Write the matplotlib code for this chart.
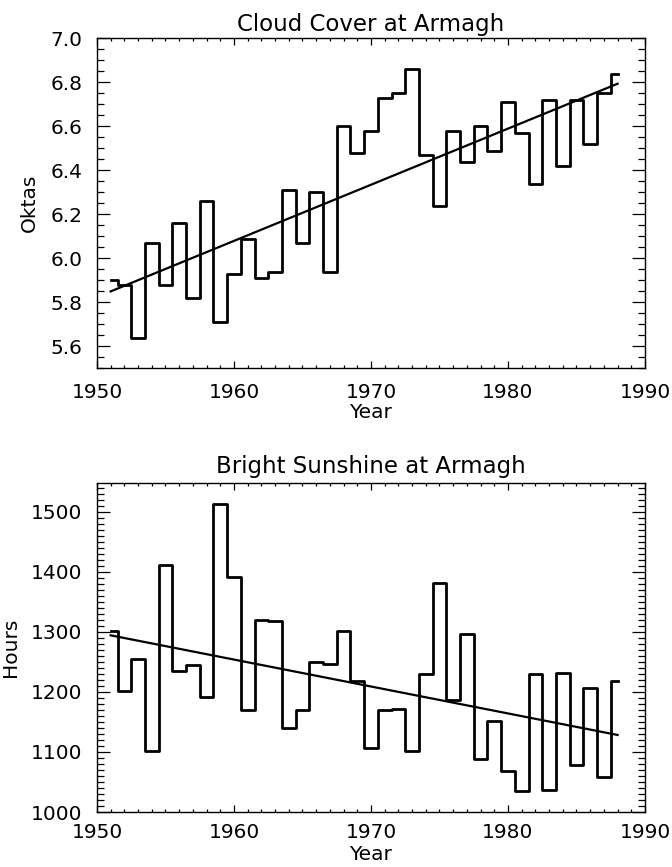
import numpy as np
import matplotlib
matplotlib.use("Agg")
import matplotlib.pyplot as plt
from matplotlib.ticker import MultipleLocator

# Data (annual means, 1951-1988)
years = np.arange(1951, 1989)

cloud_oktas = [5.90, 5.88, 5.64, 6.07, 5.88, 6.16, 5.82, 6.26, 5.71, 5.93,
               6.09, 5.91, 5.94, 6.31, 6.07, 6.30, 5.94, 6.60, 6.48, 6.58,
               6.73, 6.75, 6.86, 6.47, 6.24, 6.58, 6.44, 6.60, 6.49, 6.71,
               6.57, 6.34, 6.72, 6.42, 6.72, 6.52, 6.75, 6.84]

sunshine_hours = [1301, 1201, 1255, 1101, 1411, 1235, 1245, 1191, 1513, 1391,
                  1170, 1320, 1318, 1140, 1170, 1250, 1247, 1302, 1218, 1106,
                  1169, 1172, 1102, 1229, 1381, 1186, 1297, 1089, 1152, 1068,
                  1035, 1229, 1037, 1232, 1078, 1207, 1058, 1218]

plt.rcParams["font.family"] = "DejaVu Sans"
plt.rcParams["font.size"] = 14.5

fig = plt.figure(figsize=(6.72, 8.67), dpi=100)
ax1 = fig.add_axes([0.1443, 0.5752, 0.8155, 0.3806])
ax2 = fig.add_axes([0.1443, 0.0634, 0.8155, 0.3791])


def draw_panel(ax, values, title, ylabel, ylim, ymajor, yminor, xpad, tpad, xlpad):
    ax.step(years, values, where="mid", color="black", linewidth=2.0)
    # least-squares trend line
    slope, icpt = np.polyfit(years, values, 1)
    ends = np.array([years[0], years[-1]])
    ax.plot(ends, slope * ends + icpt, color="black", linewidth=1.6)

    ax.set_xlim(1950, 1990)
    ax.set_ylim(*ylim)
    ax.xaxis.set_major_locator(MultipleLocator(10))
    ax.xaxis.set_minor_locator(MultipleLocator(1))
    ax.yaxis.set_major_locator(MultipleLocator(ymajor))
    ax.yaxis.set_minor_locator(MultipleLocator(yminor))

    ax.tick_params(which="both", direction="in", top=True, right=True, width=0.9)
    ax.tick_params(axis="x", which="major", length=5, pad=xpad)
    ax.tick_params(axis="x", which="minor", length=2.5)
    ax.tick_params(axis="y", which="major", length=9.5, pad=10.5)
    ax.tick_params(axis="y", which="minor", length=5)
    for sp in ax.spines.values():
        sp.set_linewidth(1.0)

    ax.set_title(title, pad=tpad, fontsize=16.5)
    ax.set_xlabel("Year", labelpad=xlpad)
    ax.set_ylabel(ylabel, labelpad=8)


draw_panel(ax1, cloud_oktas, "Cloud Cover at Armagh", "Oktas",
           (5.5, 7.0), 0.2, 0.05, xpad=10.5, tpad=5, xlpad=1)
ax1.yaxis.set_major_formatter(plt.FormatStrFormatter("%.1f"))
draw_panel(ax2, sunshine_hours, "Bright Sunshine at Armagh", "Hours",
           (1000, 1547), 100, 10, xpad=8, tpad=7.5, xlpad=2)

fig.savefig("out.png", dpi=100)
